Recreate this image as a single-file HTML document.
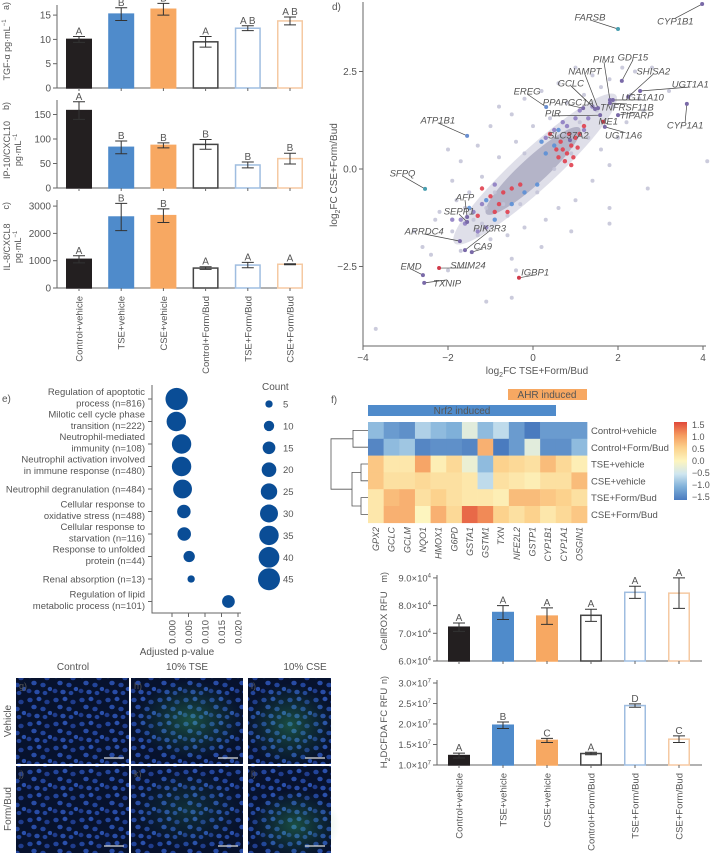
<!DOCTYPE html>
<html><head><meta charset="utf-8"><style>
html,body{margin:0;padding:0;background:#fff;}
body{position:relative;width:710px;height:853px;overflow:hidden;}
svg{display:block;font-family:"Liberation Sans",sans-serif;}
text{fill:#555;}
</style></head><body>
<svg id="fig" width="710" height="853" viewBox="0 0 710 853">
<defs>
<linearGradient id="cbar" x1="0" y1="1" x2="0" y2="0">
<stop offset="0" stop-color="#4a7bbf"/><stop offset="0.167" stop-color="#7fb0d9"/><stop offset="0.333" stop-color="#cfe6f0"/><stop offset="0.5" stop-color="#fdf5bf"/><stop offset="0.667" stop-color="#fcd28d"/><stop offset="0.833" stop-color="#f59a5e"/><stop offset="1" stop-color="#e0483a"/>
</linearGradient>
<pattern id="nuc" width="26" height="24" patternUnits="userSpaceOnUse">
<rect width="26" height="24" fill="#07122e"/>
<ellipse cx="4" cy="4" rx="2.7" ry="2.3" fill="#22449a"/><ellipse cx="13" cy="3" rx="2.5" ry="2.2" fill="#2a50ac"/><ellipse cx="21" cy="6" rx="2.7" ry="2.3" fill="#1f3c8c"/>
<ellipse cx="8" cy="11" rx="2.7" ry="2.3" fill="#284ca6"/><ellipse cx="17" cy="13" rx="2.7" ry="2.3" fill="#22449a"/><ellipse cx="24" cy="17" rx="2.3" ry="2.1" fill="#2a50ac"/>
<ellipse cx="3" cy="19" rx="2.5" ry="2.2" fill="#1f3c8c"/><ellipse cx="11" cy="20" rx="2.7" ry="2.3" fill="#284ca6"/><ellipse cx="19" cy="21" rx="2.4" ry="2.1" fill="#22449a"/>
</pattern>
<radialGradient id="grn"><stop offset="0" stop-color="#3fbf6a" stop-opacity="0.35"/><stop offset="1" stop-color="#2a8a4a" stop-opacity="0"/></radialGradient>
</defs>
<g id="root"></g>
</svg>
<script>
// ---------- data: panels a-c ----------
const groups = ["Control+vehicle","TSE+vehicle","CSE+vehicle","Control+Form/Bud","TSE+Form/Bud","CSE+Form/Bud"];
const tgfValues = [10.0, 15.2, 16.2, 9.5, 12.3, 13.8];
const tgfErrors = [0.6, 1.3, 1.2, 1.1, 0.5, 0.8];
const tgfLetters = ["A","B","B","A","A B","A B"];
const tgfTicks = [0, 5, 10, 15];
const ipValues = [158, 83, 87, 89, 47, 60];
const ipErrors = [18, 13, 5, 10, 6, 11];
const ipLetters = ["A","B","B","B","B","B"];
const ipTicks = [0, 50, 100, 150];
const ilValues = [1050, 2600, 2650, 730, 840, 870];
const ilErrors = [130, 500, 250, 50, 100, 20];
const ilLetters = ["A","B","B","A","A","A"];
const ilTicks = [0, 1000, 2000, 3000];
// ---------- data: panels m,n ----------
const roxValues = [7.22, 7.75, 7.62, 7.65, 8.48, 8.45];
const roxErrors = [0.15, 0.25, 0.30, 0.22, 0.22, 0.55];
const roxLetters = ["A","A","A","A","A","A"];
const roxTicks = [6, 7, 8, 9];
const dcfValues = [1.23, 1.97, 1.60, 1.28, 2.45, 1.63];
const dcfErrors = [0.06, 0.08, 0.05, 0.03, 0.04, 0.08];
const dcfLetters = ["A","B","C","A","D","C"];
const dcfTicks = [1.0, 1.5, 2.0, 2.5, 3.0];
// ---------- data: panel d ----------
const geneNames = ["CYP1B1","FARSB","GDF15","PIM1","SHISA2","NAMPT","UGT1A1","GCLC","UGT1A10","EREG","PPARGC1A","TNFRSF11B","PIR","TIPARP","CYP1A1","ME1","UGT1A6","SLC37A2","ATP1B1","SFPQ","AFP","SEPP1","PIK3R3","ARRDC4","CA9","SMIM24","EMD","TXNIP","IGBP1"];
const geneX = [3.98,2.0,2.09,1.81,2.24,1.53,2.52,1.46,1.88,0.31,1.18,1.81,1.58,2.0,3.62,1.65,1.69,0.87,-1.55,-2.54,-1.55,-1.55,-1.6,-1.72,-1.44,-2.21,-2.59,-2.56,-0.33];
const geneY = [4.23,3.59,2.26,1.77,1.85,1.56,2.0,1.54,1.77,1.59,1.56,1.69,1.38,1.38,1.67,1.21,1.08,0.74,0.85,-0.51,-1.23,-1.36,-2.08,-1.85,-2.13,-2.54,-2.72,-2.92,-2.79];
const geneColor = ["#7a6aa8","#4a9fb0","#7a6aa8","#7a6aa8","#7a6aa8","#7a6aa8","#7a6aa8","#7a6aa8","#7a6aa8","#6a8fd0","#7a6aa8","#7a6aa8","#7a6aa8","#7a6aa8","#7a6aa8","#d03a4a","#7a6aa8","#7a6aa8","#6a8fd0","#4a9fb0","#7a6aa8","#7a6aa8","#7a6aa8","#7a6aa8","#7a6aa8","#d03a4a","#7a6aa8","#7a6aa8","#d03a4a"];
const labelX = [3.35,1.34,2.35,1.67,2.83,1.22,3.70,0.89,2.58,-0.14,0.83,2.21,0.47,2.44,3.58,1.77,2.13,0.83,-2.24,-3.07,-1.6,-1.74,-1.02,-2.56,-1.18,-1.53,-2.87,-2.02,0.05];
const labelY = [3.79,3.90,2.87,2.82,2.51,2.51,2.18,2.21,1.85,2.0,1.72,1.59,1.44,1.38,1.13,1.23,0.87,0.87,1.26,-0.1,-0.72,-1.08,-1.51,-1.59,-1.97,-2.46,-2.49,-2.92,-2.64];
const bgX = [-3.7,4.1,2.7,1.8,0.9,-0.5,-1.1,-0.5,-2.6,-2.3,-2.0,-1.7,-1.3,-2.0,-1.7,-1.3,-1.0,-0.5,-0.2,0.2,0.6,1.0,1.4,1.8,2.1,2.4,2.8,3.2,2.6,2.2,2.0,1.6,1.8,1.4,1.0,0.6,0.3,-0.2,-0.6,-1.0,-1.4,-1.9,-2.2,-1.5,-1.2,-0.8,-0.4,0.0,0.4,0.8,1.2,1.6,0.7,1.1,1.3,0.9,0.5,-0.9,-1.1,-0.6,-0.3,-1.6,-1.8,0.1,-0.2,1.5,1.9,2.3,-0.7,-1.2,-0.4,1.8,-2.8,2.5,-2.4,-1.9,0.2,-0.8];
const bgY = [-4.1,0.2,-0.5,-1.4,-1.6,-2.3,-3.4,-3.3,-2.0,-1.3,-2.6,-2.1,-1.7,0.5,0.2,0.6,1.1,1.4,1.8,2.0,2.2,2.6,2.4,2.3,2.6,2.5,2.6,2.0,1.5,1.2,0.8,0.5,0.1,-0.3,-0.8,-1.0,-1.3,-1.5,-1.7,-1.8,-1.3,-1.6,-1.1,-0.6,-0.2,0.3,0.7,1.1,1.3,1.7,1.9,2.1,0.9,1.2,0.8,0.4,0.0,-0.6,-1.0,-1.2,-0.9,-1.0,-0.8,-0.6,0.4,1.5,1.6,1.9,-0.9,-1.4,-2.6,-1.0,-1.6,1.8,-2.2,-0.3,-2.0,1.6];
const redX = [0.6,0.7,0.8,0.9,1.0,0.75,0.85,1.1,0.55,0.95,0.65,1.2,-0.8,-0.9,-1.0,-0.7,-1.2,-0.5,-0.6,-1.3,-0.3,0.4,0.9,1.05];
const redY = [0.3,0.5,0.4,0.6,0.8,0.2,0.9,0.9,0.5,0.3,0.7,1.1,-0.9,-1.1,-0.7,-0.6,-0.5,-0.5,-1.1,-1.2,-0.4,0.9,0.1,0.55];
const blueX = [0.6,0.3,-0.5,-1.5,0.1,-0.9,0.5,-0.2,0.2,-1.1];
const blueY = [1.0,0.4,-0.9,-1.0,-0.4,-1.3,0.6,-0.6,0.7,-0.8];
const purpleX = [1.0,1.3,0.8,1.4,-1.4,-1.2,-1.6,-1.1,0.3,0.7,-0.9,1.1,-1.7,1.2,0.5,-1.9,-1.3];
const purpleY = [1.3,1.3,1.1,1.6,-1.1,-0.9,-1.4,-1.5,0.8,1.2,-0.4,1.5,-1.3,1.0,1.0,-1.3,-1.6];
const xTicksD = [-4,-2,0,2,4];
const yTicksD = [-2.5,0,2.5];
// ---------- data: panel e ----------
const goTerms = [["Regulation of apoptotic","process (n=816)"],["Milotic cell cycle phase","transition (n=222)"],["Neutrophil-mediated","immunity (n=108)"],["Neutrophil activation involved","in immune response (n=480)"],["Neutrophil degranulation (n=484)"],["Cellular response to","oxidative stress (n=488)"],["Cellular response to","starvation (n=116)"],["Response to unfolded","protein (n=44)"],["Renal absorption (n=13)"],["Regulation of lipid","metabolic process (n=101)"]];
const goPvals = [0.0014,0.0013,0.0029,0.0029,0.0032,0.0036,0.0037,0.0052,0.0058,0.0171];
const goCounts = [46,35,35,35,33,17,17,12,5,15];
const pTicks = [0.000,0.005,0.010,0.015,0.020];
const legendCounts = [5,10,15,20,25,30,35,40,45];
// ---------- data: panel f ----------
const hmGenes = ["GPX2","GCLC","GCLM","NQO1","HMOX1","G6PD","GSTA1","GSTM1","TXN","NFE2L2","GSTP1","CYP1B1","CYP1A1","OSGIN1"];
const hmRows = ["Control+vehicle","Control+Form/Bud","TSE+vehicle","CSE+vehicle","TSE+Form/Bud","CSE+Form/Bud"];
const hmCV = [-0.9,-1.2,-1.3,-0.7,-0.9,-1.0,-0.3,-0.9,-0.6,-1.2,-1.6,-1.2,-1.2,-1.2];
const hmCF = [-1.4,-0.9,-0.8,-1.4,-1.3,-1.3,-1.4,0.8,-1.5,-1.2,-0.3,-1.3,-1.3,-0.9];
const hmTV = [0.6,0.2,0.2,0.9,0.1,0.4,-0.2,-0.9,0.5,0.4,0.3,0.7,0.4,0.1];
const hmSV = [0.6,0.3,0.3,0.4,0.3,0.3,0.2,-0.6,0.3,0.2,0.1,0.3,0.3,0.7];
const hmTF = [0.2,0.7,0.8,0.3,0.5,0.3,0.2,0.2,0.1,0.7,0.7,0.6,0.5,0.3];
const hmSF = [0.2,0.8,0.8,0.0,0.8,0.4,1.3,1.1,0.5,0.3,0.5,0.2,0.4,0.6];
const cbTicks = [1.5,1.0,0.5,0.0,-0.5,-1.0,-1.5];

const NS = "http://www.w3.org/2000/svg";
const root = document.getElementById("root");
function mk(tag, attrs, parent, txt){
  const e = document.createElementNS(NS, tag);
  for (const k in attrs) e.setAttribute(k, attrs[k]);
  if (txt !== undefined) e.textContent = txt;
  (parent || root).appendChild(e);
  return e;
}
const fills = ["#231f20","#4f8bcb","#f7a862","#ffffff","#ffffff","#ffffff"];
const strokes = ["#231f20","#4f8bcb","#f7a862","#444444","#9fbde0","#f5c9a2"];

function barChart(o){
  const g = mk("g", {});
  
  
  const y = v => o.base - (v - o.min) * o.k;
  const cx = i => o.x0 + i * o.step;
  const ax = mk("path", {d:`M${o.axL},${o.top}V${o.base}H${o.axR}`, stroke:"#666", fill:"none", "stroke-width":1}, g);
  
  
  o.ticks.forEach(t => {
    const tl = mk("line", {x1:o.axL-4, x2:o.axL, y1:y(t), y2:y(t), stroke:"#666"}, g);
    
    
    const tx = mk("text", {x:o.axL-6, y:y(t)+3.5, "text-anchor":"end", "font-size":o.fs||10}, g);
    
    
    if (o.sup){ tx.textContent = t.toFixed(1) + "×10"; mk("tspan", {dy:-4, "font-size":6}, tx, o.sup); }
    else tx.textContent = t;
  });
  o.values.forEach((v,i) => {
    const b = mk("rect", {x:cx(i)-o.w/2+0.75, y:y(v), width:o.w-1.5, height:o.base - y(v), fill:fills[i], stroke:strokes[i], "stroke-width":1.5}, g);
    
    
    const e = o.errs[i];
    const eb = mk("path", {d:`M${cx(i)-6},${y(v+e)}H${cx(i)+6}M${cx(i)},${y(v+e)}V${y(v-e)}M${cx(i)-6},${y(v-e)}H${cx(i)+6}`, stroke:"#333", fill:"none", "stroke-width":1}, g);
    
    
    const lt = mk("text", {x:cx(i), y:y(v+e)-2, "text-anchor":"middle", "font-size":10}, g, o.letters[i]);
    
    
    const xt = mk("line", {x1:cx(i), x2:cx(i), y1:o.base, y2:o.base+3, stroke:"#666"}, g);
    
    
    if (o.cats){
      const c = mk("text", {x:0, y:0, transform:`translate(${cx(i)+3.5},${o.base+8}) rotate(-90)`, "text-anchor":"end", "font-size":9.5}, g, groups[i]);
      
      
    }
  });
  return g;
}
barChart({name:"panel-a-tgf-chart", values:tgfValues, errs:tgfErrors, letters:tgfLetters, ticks:tgfTicks, base:88, top:5, min:0, k:4.86, axL:57, axR:300, x0:79, step:42.2, w:26});
barChart({name:"panel-b-ip10-chart", values:ipValues, errs:ipErrors, letters:ipLetters, ticks:ipTicks, base:188, top:100, min:0, k:0.49, axL:57, axR:300, x0:79, step:42.2, w:26});
barChart({name:"panel-c-il8-chart", values:ilValues, errs:ilErrors, letters:ilLetters, ticks:ilTicks, base:288, top:200, min:0, k:0.0273, axL:57, axR:300, x0:79, step:42.2, w:26, cats:true});
barChart({name:"panel-m-cellrox-chart", values:roxValues, errs:roxErrors, letters:roxLetters, ticks:roxTicks, base:661, top:575, min:6, k:27.7, axL:437, axR:702, x0:459, step:44, w:22, sup:"4", fs:9.5});
barChart({name:"panel-n-h2dcfda-chart", values:dcfValues, errs:dcfErrors, letters:dcfLetters, ticks:dcfTicks, base:765, top:680, min:1.0, k:41, axL:437, axR:702, x0:459, step:44, w:22, sup:"7", fs:9.5, cats:true});

// ---------- panel d scatter ----------
const gD = mk("g", {});


const sx = v => 533 + v * 42.5;
const sy = v => 169 - v * 39;
const dAx = mk("path", {d:`M363,2V346H706`, stroke:"#666", fill:"none"}, gD);


xTicksD.forEach(t => {
  const l = mk("line", {x1:sx(t), x2:sx(t), y1:346, y2:350, stroke:"#666"}, gD);
  
  
  const tx = mk("text", {x:sx(t), y:361, "text-anchor":"middle", "font-size":10}, gD, t < 0 ? "−" + (-t) : t);
  
  
});
yTicksD.forEach(t => {
  const l = mk("line", {x1:359, x2:363, y1:sy(t), y2:sy(t), stroke:"#666"}, gD);
  
  
  const tx = mk("text", {x:357, y:sy(t)+3.5, "text-anchor":"end", "font-size":10}, gD, t < 0 ? "−" + (-t).toFixed(1) : t.toFixed(1));
  
  
});
const ang = -Math.atan2(39, 42.5) * 180 / Math.PI;
const halo = mk("ellipse", {cx:sx(0.05), cy:sy(0), rx:Math.hypot(sx(1.9)-sx(0), sy(1.9)-sy(0)), ry:20, fill:"#d2d2e0", opacity:0.7, transform:`rotate(${ang} ${sx(0.05)} ${sy(0)})`}, gD);


const core = mk("ellipse", {cx:sx(0), cy:sy(-0.05), rx:Math.hypot(sx(1.1)-sx(0), sy(1.1)-sy(0)), ry:13, fill:"#b4b4c8", transform:`rotate(${ang} ${sx(0)} ${sy(-0.05)})`}, gD);


bgX.forEach((v,i) => {
  const c = mk("circle", {cx:sx(v), cy:sy(bgY[i]), r:2, fill:"#c2c2d6", opacity:0.85}, gD);
  
  
});
purpleX.forEach((v,i) => {
  const c = mk("circle", {cx:sx(v), cy:sy(purpleY[i]), r:2.2, fill:"#8a78c0", opacity:0.85}, gD);
  
  
});
blueX.forEach((v,i) => {
  const c = mk("circle", {cx:sx(v), cy:sy(blueY[i]), r:2.2, fill:"#5b8fd6", opacity:0.9}, gD);
  
  
});
redX.forEach((v,i) => {
  const c = mk("circle", {cx:sx(v), cy:sy(redY[i]), r:2.2, fill:"#e0404f", opacity:0.9}, gD);
  
  
});
geneNames.forEach((n,i) => {
  const px = sx(geneX[i]), py = sy(geneY[i]), lx = sx(labelX[i]), ly = sy(labelY[i]);
  const ln = mk("line", {x1:px, y1:py, x2:lx, y2:ly+ (ly < py ? 3 : -3), stroke:"#444", "stroke-width":0.7}, gD);
  
  
  const c = mk("circle", {cx:px, cy:py, r:2, fill:geneColor[i]}, gD);
  
  
  const t = mk("text", {x:lx, y:ly+3.5, "text-anchor":"middle", "font-size":9.5, "font-style":"italic", fill:"#444"}, gD, n);
  
  
});
const dxT = mk("text", {x:537, y:374, "text-anchor":"middle", "font-size":10}, gD, "log");


mk("tspan", {dy:3, "font-size":7}, dxT, "2");
mk("tspan", {dy:-3}, dxT, "FC TSE+Form/Bud");
const dyT = mk("text", {x:0, y:0, transform:"translate(337,175) rotate(-90)", "text-anchor":"middle", "font-size":10}, gD, "log");


mk("tspan", {dy:3, "font-size":7}, dyT, "2");
mk("tspan", {dy:-3}, dyT, "FC CSE+Form/Bud");

// ---------- panel e bubble chart ----------
const gE = mk("g", {});


const ex = p => 172 + p * 3300;
const ey = i => 399 + i * 22.5;
const er = c => 1.64 * Math.sqrt(c);
const eAx = mk("path", {d:"M152,385V613H241", stroke:"#666", fill:"none"}, gE);


pTicks.forEach(t => {
  const l = mk("line", {x1:ex(t), x2:ex(t), y1:613, y2:617, stroke:"#666"}, gE);
  
  
  const tx = mk("text", {x:0, y:0, transform:`translate(${ex(t)+3.5},620) rotate(-90)`, "text-anchor":"end", "font-size":9.5}, gE, t.toFixed(3));
  
  
});
goTerms.forEach((lines,i) => {
  const l = mk("line", {x1:148, x2:152, y1:ey(i), y2:ey(i), stroke:"#666"}, gE);
  
  
  lines.forEach((s,j) => {
    const yy = lines.length === 1 ? ey(i)+3.5 : ey(i) - 7 + j * 11.5 + 3;
    const t = mk("text", {x:145, y:yy, "text-anchor":"end", "font-size":9.5}, gE, s);
    
    
  });
  const c = mk("circle", {cx:ex(goPvals[i]), cy:ey(i), r:er(goCounts[i]), fill:"#0a4d96"}, gE);
  
  
});
const eT = mk("text", {x:177, y:655, "text-anchor":"middle", "font-size":10}, gE, "Adjusted p-value");


const cT = mk("text", {x:262, y:390, "font-size":10}, gE, "Count");


legendCounts.forEach((c,i) => {
  const cc = mk("circle", {cx:269, cy:404 + i*21.9, r:er(c), fill:"#0a4d96"}, gE);
  
  
  const t = mk("text", {x:283, y:404 + i*21.9 + 3.5, "font-size":9.5}, gE, c);
  
  
});

// ---------- panel f heatmap ----------
const gF = mk("g", {});


const stops = [[-1.5,[74,123,191]],[-1,[127,176,217]],[-0.5,[207,230,240]],[0,[253,245,191]],[0.5,[252,210,141]],[1,[245,154,94]],[1.5,[224,72,58]]];
function cmap(v){
  v = Math.max(-1.5, Math.min(1.5, v));
  for (let i=0;i<stops.length-1;i++){
    if (v <= stops[i+1][0]){
      const f = (v - stops[i][0]) / 0.5;
      const a = stops[i][1], b = stops[i+1][1];
      return `rgb(${a.map((c,k)=>Math.round(c+(b[k]-c)*f)).join(",")})`;
    }
  }
  return "rgb(224,72,58)";
}
const hmData = [hmCV, hmCF, hmTV, hmSV, hmTF, hmSF];
const hx = j => 368 + j * 15.65;
const hy = i => 422 + i * 16.8;
hmData.forEach((row,i) => {
  row.forEach((v,j) => {
    const r = mk("rect", {x:hx(j), y:hy(i), width:15.9, height:17.1, fill:cmap(v)}, gF);
    
    
  });
  const t = mk("text", {x:591, y:hy(i)+12, "font-size":9.5}, gF, hmRows[i]);
  
  
});
hmGenes.forEach((g,j) => {
  const t = mk("text", {x:0, y:0, transform:`translate(${hx(j)+11},527) rotate(-90)`, "text-anchor":"end", "font-size":9, "font-style":"italic"}, gF, g);
  
  
});
const dendro = mk("path", {d:"M368,430.4H353V447.2H368M368,464H361V480.8H368M368,497.6H361V514.4H368M361,472.4H352V506H361M353,438.8H331V489.2H352", stroke:"#555", fill:"none", "stroke-width":0.8}, gF);


const cb = mk("rect", {x:674, y:422, width:13, height:78, fill:"url(#cbar)"}, gF);


cbTicks.forEach((t,i) => {
  const tx = mk("text", {x:692, y:425 + i*12 + 3, "font-size":9}, gF, t < 0 ? "−" + (-t).toFixed(1) : t.toFixed(1));
  
  
});
</script>

<svg width="710" height="853" viewBox="0 0 710 853" style="position:absolute;left:0;top:0;font-family:'Liberation Sans',sans-serif">
<g fill="#555" font-size="10">
<text x="0" y="0" transform="translate(9,2) rotate(-90)" text-anchor="end" font-size="9">a)</text>
<text x="0" y="0" transform="translate(10,50) rotate(-90)" text-anchor="middle" font-size="9">TGF-α pg·mL<tspan dy="-4" font-size="6">−1</tspan></text>
<text x="0" y="0" transform="translate(9,102) rotate(-90)" text-anchor="end" font-size="9">b)</text>
<text x="0" y="0" transform="translate(10,150) rotate(-90)" text-anchor="middle" font-size="9">IP-10/CXCL10</text>
<text x="0" y="0" transform="translate(21,150) rotate(-90)" text-anchor="middle" font-size="9">pg·mL<tspan dy="-4" font-size="6">−1</tspan></text>
<text x="0" y="0" transform="translate(9,202) rotate(-90)" text-anchor="end" font-size="9">c)</text>
<text x="0" y="0" transform="translate(10,247) rotate(-90)" text-anchor="middle" font-size="9">IL-8/CXCL8</text>
<text x="0" y="0" transform="translate(21,247) rotate(-90)" text-anchor="middle" font-size="9">pg·mL<tspan dy="-4" font-size="6">−1</tspan></text>
<text x="332" y="10">d)</text>
<text x="2" y="402">e)</text>
<text x="331" y="403">f)</text>
<text x="0" y="0" transform="translate(387,572) rotate(-90)" text-anchor="end" font-size="9">m)</text>
<text x="0" y="0" transform="translate(387,621) rotate(-90)" text-anchor="middle" font-size="9.5">CellROX RFU</text>
<text x="0" y="0" transform="translate(387,676) rotate(-90)" text-anchor="end" font-size="9">n)</text>
<text x="0" y="0" transform="translate(387,728) rotate(-90)" text-anchor="middle" font-size="9.5">H<tspan dy="3" font-size="7">2</tspan><tspan dy="-3">DCFDA FC RFU</tspan></text>
</g>
<rect x="508" y="389" width="79" height="11" fill="#f7a862"/>
<text x="547" y="398" text-anchor="middle" font-size="10" fill="#fde9d6">AHR induced</text>
<rect x="368" y="405" width="188" height="11" fill="#4f8bcb"/>
<text x="462" y="414" text-anchor="middle" font-size="10" fill="#e3eefa">Nrf2 induced</text>
<g font-size="10" fill="#555">
<text x="73" y="670" text-anchor="middle">Control</text>
<text x="187" y="670" text-anchor="middle">10% TSE</text>
<text x="305" y="670" text-anchor="middle">10% CSE</text>
<text x="0" y="0" transform="translate(11,721) rotate(-90)" text-anchor="middle">Vehicle</text>
<text x="0" y="0" transform="translate(11,809) rotate(-90)" text-anchor="middle">Form/Bud</text>
</g>
<g><rect x="16" y="678" width="113" height="86" fill="url(#nuc)"/><text x="19" y="689" font-size="9" fill="#ddd">g)</text><line x1="104" y1="758" x2="124" y2="758" stroke="#ddd" stroke-width="1.2"/></g>
<g><rect x="131" y="678" width="112" height="86" fill="url(#nuc)"/><ellipse cx="190" cy="720" rx="55" ry="40" fill="url(#grn)"/><text x="134" y="689" font-size="9" fill="#ddd">h)</text><line x1="218" y1="758" x2="238" y2="758" stroke="#ddd" stroke-width="1.2"/></g>
<g><rect x="248" y="678" width="83" height="86" fill="url(#nuc)"/><ellipse cx="290" cy="725" rx="45" ry="42" fill="url(#grn)"/><text x="251" y="689" font-size="9" fill="#ddd">i)</text><line x1="305" y1="758" x2="325" y2="758" stroke="#ddd" stroke-width="1.2"/></g>
<g><rect x="16" y="766" width="113" height="87" fill="url(#nuc)"/><text x="19" y="777" font-size="9" fill="#ddd">j)</text><line x1="104" y1="846" x2="124" y2="846" stroke="#ddd" stroke-width="1.2"/></g>
<g><rect x="131" y="766" width="112" height="87" fill="url(#nuc)"/><ellipse cx="187" cy="810" rx="55" ry="40" fill="url(#grn)" opacity="0.5"/><text x="134" y="777" font-size="9" fill="#ddd">k)</text><line x1="218" y1="846" x2="238" y2="846" stroke="#ddd" stroke-width="1.2"/></g>
<g><rect x="248" y="766" width="83" height="87" fill="url(#nuc)"/><ellipse cx="295" cy="825" rx="45" ry="35" fill="url(#grn)"/><text x="251" y="777" font-size="9" fill="#ddd">l)</text><line x1="305" y1="846" x2="325" y2="846" stroke="#ddd" stroke-width="1.2"/></g>
</svg>
</body></html>
